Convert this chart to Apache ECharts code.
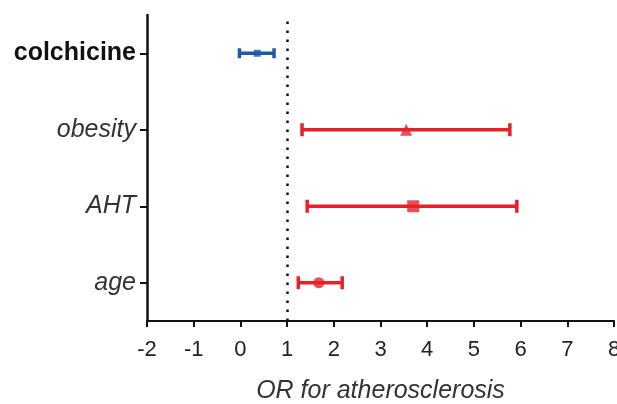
<!DOCTYPE html>
<html>
<head>
<meta charset="utf-8">
<script src="https://cdn.jsdelivr.net/npm/echarts@6/dist/echarts.min.js"></script>
<style>
html, body { margin: 0; padding: 0; background: #fff; }
#chart { width: 617px; height: 404px; }
</style>
</head>
<body>
<div id="chart"></div>
<script>
// bottom to top
var categories = ['age', 'AHT', 'obesity', 'colchicine'];
var estimate = [1.68, 3.70, 3.55, 0.36];
var lower = [1.24, 1.43, 1.32, -0.02];
var upper = [2.18, 5.92, 5.77, 0.72];
var colors = ['#e8202a', '#e8202a', '#e8202a', '#1f5aa6'];
var symbols = ['circle', 'rect', 'triangle', 'rect'];
var symbolSizes = [11, 12, 12, 7];
var xTicks = [-2, -1, 0, 1, 2, 3, 4, 5, 6, 7, 8];
var refValue = 1;

var chart = echarts.init(document.getElementById('chart'));

var errData = categories.map(function (c, i) {
    return [i, lower[i], upper[i]];
});
var pointData = categories.map(function (c, i) {
    return {
        value: [estimate[i], i],
        symbol: symbols[i],
        symbolSize: symbolSizes[i],
        itemStyle: { color: colors[i] }
    };
});

var option = {
    animation: false,
    grid: { left: 147, right: 3, top: 15, bottom: 83, containLabel: false, outerBoundsMode: 'none' },
    xAxis: {
        type: 'value',
        min: xTicks[0],
        max: xTicks[xTicks.length - 1],
        interval: 1,
        splitLine: { show: false },
        axisLine: { show: true, onZero: false, lineStyle: { color: '#111', width: 2 } },
        axisTick: { show: true, length: 6, lineStyle: { color: '#111', width: 2 } },
        axisLabel: { color: '#222', fontSize: 22, fontFamily: 'Liberation Sans', margin: 18, hideOverlap: false },
        name: 'OR for atherosclerosis',
        nameLocation: 'middle',
        nameGap: 58,
        nameTextStyle: { color: '#333', fontSize: 25, fontStyle: 'italic', fontFamily: 'Liberation Sans' }
    },
    yAxis: {
        type: 'category',
        data: categories,
        boundaryGap: true,
        axisLine: { show: true, onZero: false, lineStyle: { color: '#111', width: 2.5 } },
        axisTick: { show: true, alignWithLabel: true, length: 7, lineStyle: { color: '#111', width: 2 } },
        splitLine: { show: false },
        axisLabel: {
            margin: 11,
            formatter: function (v) {
                return v === 'colchicine' ? '{b|' + v + '}' : '{i|' + v + '}';
            },
            rich: {
                b: { fontSize: 25, fontWeight: 'bold', color: '#111', fontFamily: 'Liberation Sans' },
                i: { fontSize: 25, fontStyle: 'italic', color: '#333', fontFamily: 'Liberation Sans' }
            }
        }
    },
    series: [
        {
            type: 'custom',
            data: errData,
            renderItem: function (params, api) {
                var idx = api.value(0);
                var lo = api.coord([api.value(1), idx]);
                var hi = api.coord([api.value(2), idx]);
                var cap = idx === 3 ? 5 : 6.5;
                var style = { stroke: colors[idx], lineWidth: 3.5, fill: null };
                return {
                    type: 'group',
                    children: [
                        { type: 'line', shape: { x1: lo[0], y1: lo[1], x2: hi[0], y2: hi[1] }, style: style },
                        { type: 'line', shape: { x1: lo[0], y1: lo[1] - cap, x2: lo[0], y2: lo[1] + cap }, style: style },
                        { type: 'line', shape: { x1: hi[0], y1: hi[1] - cap, x2: hi[0], y2: hi[1] + cap }, style: style }
                    ]
                };
            },
            z: 2
        },
        {
            type: 'scatter',
            data: pointData,
            z: 3,
            markLine: {
                silent: true,
                symbol: ['none', 'none'],
                label: { show: false },
                lineStyle: { type: [2.5, 6.5], color: '#111', width: 2.5 },
                data: [{ xAxis: refValue }]
            }
        }
    ]
};

chart.setOption(option);
</script>
</body>
</html>
